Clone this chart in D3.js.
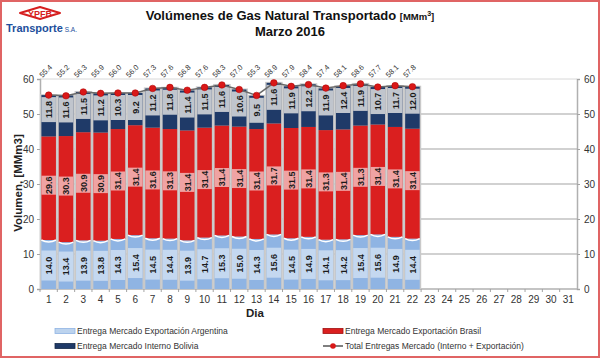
<!DOCTYPE html>
<html>
<head>
<meta charset="utf-8">
<script src="https://cdn.jsdelivr.net/npm/d3@7"></script>
<style>
  body { margin: 0; background: #fff; }
  svg { display: block; font-family: "Liberation Sans", Arial, sans-serif; }
</style>
</head>
<body>
<div class="chart"></div>
<script>
const width = 600;
const height = 358;

// data (MMm3 per day, March 2016)
const days = d3.range(1, 32);
const argentina = [14.0, 13.4, 13.9, 13.8, 14.3, 15.4, 14.5, 14.4, 13.9, 14.7, 15.3, 15.0, 14.3, 15.6, 14.5, 14.9, 14.1, 14.2, 15.4, 15.6, 14.9, 14.4];
const brasil    = [29.6, 30.3, 30.9, 30.9, 31.4, 31.4, 31.6, 31.3, 31.4, 31.4, 31.4, 31.4, 31.4, 31.7, 31.5, 31.4, 31.3, 31.4, 31.3, 31.4, 31.4, 31.4];
const bolivia   = [11.8, 11.6, 11.5, 11.2, 10.3, 9.2, 11.2, 11.8, 11.4, 11.5, 11.6, 10.6, 9.5, 11.6, 11.9, 12.2, 11.9, 12.4, 11.9, 10.7, 11.7, 12.0];
const totals    = [55.4, 55.2, 56.3, 55.9, 56.0, 56.0, 57.3, 57.6, 56.8, 57.6, 58.3, 57.0, 55.3, 58.9, 57.9, 58.4, 57.4, 58.1, 58.6, 57.7, 58.1, 57.8];
const yTicks = [0, 10, 20, 30, 40, 50, 60];

const margin = {top: 79, right: 23, bottom: 69, left: 40};

const svg = d3.select(".chart")
    .append("svg")
    .attr("width", width)
    .attr("height", height);

// outer red frame
svg.append("rect")
    .attr("x", 1).attr("y", 1)
    .attr("width", width - 2).attr("height", height - 2)
    .attr("fill", "#fff")
    .attr("stroke", "#e06464")
    .attr("stroke-width", 2);

const x = d3.scaleBand()
    .domain(days)
    .range([margin.left, width - margin.right])
    .paddingInner(0.16)
    .paddingOuter(0.08);

const y = d3.scaleLinear()
    .domain([0, 60])
    .range([height - margin.bottom, margin.top]);

// grid lines
svg.append("g")
    .selectAll("line")
    .data(yTicks.filter(d => d > 0))
    .join("line")
    .attr("x1", margin.left)
    .attr("x2", width - margin.right)
    .attr("y1", d => y(d))
    .attr("y2", d => y(d))
    .attr("stroke", d => d == 60 ? "#d8d8d8" : "#a3a3a3")
    .attr("stroke-width", 1);

// left + right axes
const yLeft = svg.append("g")
    .attr("transform", `translate(${margin.left},0)`)
    .call(d3.axisLeft(y).tickValues(yTicks).tickSize(3).tickPadding(3));
const yRight = svg.append("g")
    .attr("transform", `translate(${width - margin.right},0)`)
    .call(d3.axisRight(y).tickValues(yTicks).tickSize(3).tickPadding(4));
[yLeft, yRight].forEach(g => {
    g.select(".domain").attr("stroke", "#b0b0b0").attr("stroke-width", 1.5);
    g.selectAll(".tick line").attr("stroke", "#a3a3a3");
    g.selectAll("text").attr("font-size", 10).attr("fill", "#333");
});

// bottom axis, ticks between days
const step = x.step();
const edge = d => x(d) - x.paddingInner() * step / 2;   // left boundary of day d
const xAxis = svg.append("g")
    .attr("transform", `translate(0,${y(0)})`);
xAxis.append("line")
    .attr("x1", margin.left).attr("x2", width - margin.right)
    .attr("stroke", "#b0b0b0").attr("stroke-width", 1.5);
xAxis.selectAll(".sep")
    .data(days)
    .join("line")
    .attr("class", "sep")
    .attr("x1", d => edge(d)).attr("x2", d => edge(d))
    .attr("y1", 0).attr("y2", 3)
    .attr("stroke", "#a3a3a3");
xAxis.selectAll("text")
    .data(days)
    .join("text")
    .attr("x", d => x(d) + x.bandwidth() / 2)
    .attr("y", 14)
    .attr("text-anchor", "middle")
    .attr("font-size", 10)
    .attr("fill", "#333")
    .text(d => d);

// stacked bars
const rows = argentina.map((a, i) => ({day: days[i], arg: a, bra: brasil[i], bol: bolivia[i], total: totals[i]}));
const stack = d3.stack().keys(["arg", "bra", "bol"])(rows);

const series = {
    arg: {fill: "#8fb4e3", box: "#c4d8f0"},
    bra: {fill: "#da1f1f", box: "#efa3a3"},
    bol: {fill: "#1f3a68", box: "#c0c5cd"}
};

// gray rim behind each bar
svg.append("g")
    .selectAll("rect")
    .data(rows)
    .join("rect")
    .attr("x", d => x(d.day) - 1.5)
    .attr("width", x.bandwidth() + 3)
    .attr("y", d => y(d.arg + d.bra + d.bol) - 1)
    .attr("height", d => y(0) - y(d.arg + d.bra + d.bol) + 1)
    .attr("fill", "#c9c9c9");

const layer = svg.append("g")
    .selectAll("g")
    .data(stack)
    .join("g");

layer.selectAll("rect.seg")
    .data(s => s.map(d => ({key: s.key, d})))
    .join("rect")
    .attr("class", "seg")
    .attr("x", e => x(e.d.data.day))
    .attr("width", x.bandwidth())
    .attr("y", e => y(e.d[1]))
    .attr("height", e => y(e.d[0]) - y(e.d[1]))
    .attr("fill", e => series[e.key].fill);

// lighter label boxes inside segments
function boxSpan(e) {
    const top = y(e.d[1]), bot = y(e.d[0]);
    if (e.key == "bol") return [top + 2, top + 27];
    if (e.key == "bra") { const c = (top + bot) / 2 - 3; return [c - 9.5, c + 9.5]; }
    const c = (top + bot) / 2 + 1; return [c - 15, c + 15];
}
layer.selectAll("rect.box")
    .data(s => s.map(d => ({key: s.key, d})))
    .join("rect")
    .attr("class", "box")
    .attr("x", e => x(e.d.data.day))
    .attr("width", x.bandwidth())
    .attr("y", e => boxSpan(e)[0])
    .attr("height", e => boxSpan(e)[1] - boxSpan(e)[0])
    .attr("fill", e => series[e.key].box);

// white highlight on top of argentina segment
svg.append("g")
    .selectAll("path")
    .data(rows)
    .join("path")
    .attr("d", d => {
        const x0 = x(d.day), x1 = x0 + x.bandwidth(), yy = y(d.arg);
        return `M${x0},${yy} Q${(x0 + x1) / 2},${yy + 4} ${x1},${yy}`;
    })
    .attr("fill", "none")
    .attr("stroke", "#fff")
    .attr("stroke-width", 1.5);

layer.selectAll("text")
    .data(s => s.map(d => ({key: s.key, d})))
    .join("text")
    .attr("transform", e => {
        const b = boxSpan(e);
        return `translate(${x(e.d.data.day) + x.bandwidth() / 2 + 3.5},${(b[0] + b[1]) / 2}) rotate(-90)`;
    })
    .attr("text-anchor", "middle")
    .attr("font-size", 9)
    .attr("font-weight", "bold")
    .attr("fill", "#1a1a1a")
    .text(e => (e.d[1] - e.d[0]).toFixed(1));

// total line with dots
const line = d3.line()
    .x(d => x(d.day) + x.bandwidth() / 2)
    .y(d => y(d.total));
svg.append("path")
    .datum(rows)
    .attr("d", line)
    .attr("fill", "none")
    .attr("stroke", "#6a6a6a")
    .attr("stroke-width", 1.5);
svg.append("g")
    .selectAll("circle")
    .data(rows)
    .join("circle")
    .attr("cx", d => x(d.day) + x.bandwidth() / 2)
    .attr("cy", d => y(d.total))
    .attr("r", 3.3)
    .attr("fill", "#d91818")
    .attr("stroke", "#a00")
    .attr("stroke-width", 0.5);

svg.append("g")
    .selectAll("text")
    .data(rows)
    .join("text")
    .attr("transform", d => `translate(${x(d.day) + 1},${y(60) - 1}) rotate(-45)`)
    .attr("font-size", 7.5)
    .attr("fill", "#333")
    .text(d => d.total.toFixed(1));

// axis titles
svg.append("text")
    .attr("transform", `translate(22,183) rotate(-90)`)
    .attr("text-anchor", "middle")
    .attr("font-size", 11.5)
    .attr("font-weight", "bold")
    .attr("fill", "#222")
    .text("Volumen, [MMm3]");
svg.append("text")
    .attr("x", 255).attr("y", 317)
    .attr("text-anchor", "middle")
    .attr("font-size", 11.5)
    .attr("font-weight", "bold")
    .attr("fill", "#222")
    .text("Dia");

// title
const title = svg.append("text")
    .attr("x", 290).attr("y", 20)
    .attr("text-anchor", "middle")
    .attr("font-size", 13)
    .attr("font-weight", "bold")
    .attr("fill", "#111");
title.append("tspan").text("Volúmenes de Gas Natural Transportado ");
title.append("tspan").attr("font-size", 9.5).text("[MMm");
title.append("tspan").attr("font-size", 7).attr("dy", -4).text("3");
title.append("tspan").attr("font-size", 9.5).attr("dy", 4).text("]");
svg.append("text")
    .attr("x", 290).attr("y", 36)
    .attr("text-anchor", "middle")
    .attr("font-size", 13)
    .attr("font-weight", "bold")
    .attr("fill", "#111")
    .text("Marzo 2016");

// logo
const logo = svg.append("g");
logo.append("path")
    .attr("d", "M20,13 L40,7 L60,13 L40,19 Z")
    .attr("fill", "#fff")
    .attr("stroke", "#d62020")
    .attr("stroke-width", 2)
    .attr("stroke-linejoin", "round");
logo.append("text")
    .attr("x", 40).attr("y", 16.5)
    .attr("text-anchor", "middle")
    .attr("font-size", 9)
    .attr("font-weight", "bold")
    .attr("fill", "#d62020")
    .text("YPFB");
const lt = logo.append("text")
    .attr("x", 6).attr("y", 32)
    .attr("font-size", 11)
    .attr("font-weight", "bold")
    .attr("fill", "#1d4f9c");
lt.append("tspan").text("Transporte");
lt.append("tspan").attr("font-size", 6.5).attr("font-weight", "normal").text(" S.A.");

// legend
const legendItems = [
    {label: "Entrega Mercado Exportación Argentina", fill: "#bcd3ee", stroke: "#8fb4e3", x: 55, y: 331},
    {label: "Entrega Mercado Exportación Brasil", fill: "#da1f1f", stroke: "#a01010", x: 323, y: 331},
    {label: "Entrega Mercado Interno Bolivia", fill: "#1f3a68", stroke: "#142848", x: 55, y: 346},
    {label: "Total Entregas Mercado (Interno + Exportación)", line: true, x: 323, y: 346}
];
const legend = svg.append("g")
    .selectAll("g")
    .data(legendItems)
    .join("g")
    .attr("transform", d => `translate(${d.x},${d.y})`);
legend.filter(d => !d.line).append("rect")
    .attr("x", 0).attr("y", -2.5)
    .attr("width", 20).attr("height", 5)
    .attr("fill", d => d.fill)
    .attr("stroke", d => d.stroke)
    .attr("stroke-width", 0.8);
legend.filter(d => d.line).append("line")
    .attr("x1", 0).attr("x2", 20)
    .attr("stroke", "#555").attr("stroke-width", 1.5);
legend.filter(d => d.line).append("circle")
    .attr("cx", 10).attr("r", 2.8)
    .attr("fill", "#d91818");
legend.append("text")
    .attr("x", 22).attr("y", 3)
    .attr("font-size", 8.5)
    .attr("fill", "#333")
    .text(d => d.label);
</script>
</body>
</html>
